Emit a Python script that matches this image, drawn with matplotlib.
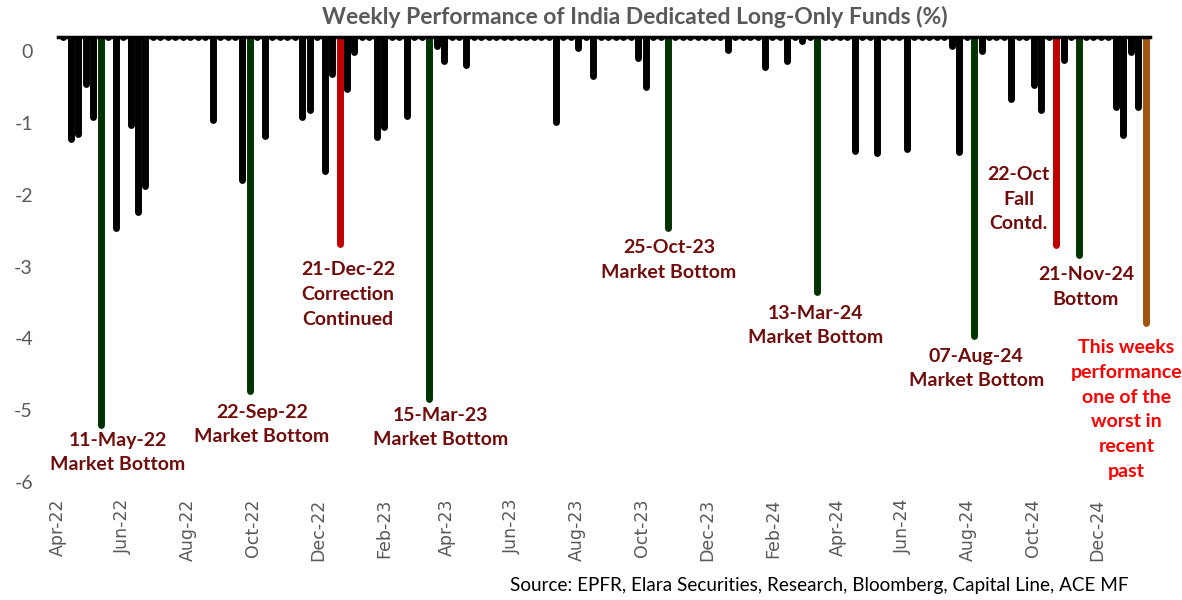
import numpy as np
import pandas as pd
import matplotlib
matplotlib.use("Agg")
import matplotlib.pyplot as plt
import matplotlib.dates as mdates

plt.rcParams["axes.unicode_minus"] = False

# weekly flows, Wednesdays
weeks = pd.date_range("2022-04-06", periods=146, freq="7D")

# weekly performance (%); positive weeks sit above the chart top and are clipped
perf = [
    0.6, -1.22, -1.15, -0.46, -0.91, -5.21, 0.8, -2.46, 0.5, -1.03,
    -2.24, -1.88, 0.7, 1.1, 0.4, 0.9, 0.6, 1.2, 0.5, 0.8,
    -0.95, 0.6, 0.9, 0.4, -1.79, -4.73, 0.7, -1.18, 0.5, 0.8,
    1.0, 0.6, -0.91, -0.82, 0.5, -1.67, -0.31, -2.69, -0.53, -0.01,
    0.7, 0.4, -1.20, -1.06, 0.6, 0.25, -0.90, 0.8, 0.5, -4.85,
    0.08, -0.14, 0.9, 0.6, -0.19, 0.7, 1.1, 0.5, 0.8, 0.6,
    0.9, 0.4, 0.7, 1.0, 0.5, 0.6, -0.99, 0.8, 0.5, 0.05,
    0.6, -0.34, 0.7, 0.9, 0.5, 0.8, 0.6, -0.09, -0.50, 0.7,
    0.5, -2.46, 1.2, 0.9, 0.6, 0.8, 0.5, 0.7, 0.25, 0.02,
    0.6, 0.8, 0.5, 0.7, -0.22, 0.6, 0.9, -0.14, 0.5, 0.14,
    0.7, -3.35, 1.1, 0.8, 0.6, 0.5, -1.39, 0.9, 0.6, -1.42,
    0.7, 0.5, 0.8, -1.36, 0.6, 0.9, 0.5, 0.7, 0.6, 0.08,
    -1.40, 0.8, -3.97, 0.01, 0.6, 0.9, 0.5, -0.66, 0.7, 0.6,
    -0.47, -0.82, 0.5, -2.70, -0.12, 0.6, -2.84, 0.8, 0.5, 0.7,
    0.6, -0.78, -1.17, -0.01, -0.78, -3.79,
]

bottom_weeks = ["2022-05-11", "2022-09-28", "2023-03-15", "2023-10-25",
                "2024-03-13", "2024-08-07", "2024-11-13"]
fall_weeks = ["2022-12-21", "2024-10-23"]
latest_week = "2025-01-15"

notes = [
    ("11-May-22\nMarket Bottom", "2022-05-27", -5.59),
    ("22-Sep-22\nMarket Bottom", "2022-10-09", -5.20),
    ("21-Dec-22\nCorrection\nContinued", "2022-12-29", -3.39),
    ("15-Mar-23\nMarket Bottom", "2023-03-26", -5.24),
    ("25-Oct-23\nMarket Bottom", "2023-10-26", -2.91),
    ("13-Mar-24\nMarket Bottom", "2024-03-11", -3.82),
    ("07-Aug-24\nMarket Bottom", "2024-08-09", -4.42),
    ("22-Oct\nFall\nContd.", "2024-09-18", -2.06),
    ("21-Nov-24\nBottom", "2024-11-20", -3.28),
]
latest_note = ("This weeks\nperformance\none of the\nworst in\nrecent\npast", "2024-12-28", -4.99)

colors = []
for w in weeks:
    d = w.strftime("%Y-%m-%d")
    if d in bottom_weeks:
        colors.append("#013300")
    elif d in fall_weeks:
        colors.append("#C00000")
    elif d == latest_week:
        colors.append("#A0560F")
    else:
        colors.append("black")

top = 0.2
fig = plt.figure(figsize=(11.82, 6), dpi=100)
ax = fig.add_axes([58 / 1182, 1 - 482 / 600, (1150 - 58) / 1182, (482 - 37) / 600])

bars = ax.vlines(weeks, top, perf, colors=colors, linewidth=5)
bars.set_capstyle("round")

ax.set_ylim(-6, top)
ax.set_xlim(pd.Timestamp("2022-04-01"), pd.Timestamp("2025-01-19"))
ax.set_yticks(range(-6, 1))

for s in ["left", "right", "bottom"]:
    ax.spines[s].set_visible(False)
ax.spines["top"].set_linewidth(2.5)
ax.spines["top"].set_color("black")
ax.spines["top"].set_zorder(5)

ax.xaxis.set_major_locator(mdates.MonthLocator(bymonth=[2, 4, 6, 8, 10, 12]))
ax.xaxis.set_major_formatter(mdates.DateFormatter("%b-%y"))
ax.tick_params(axis="x", length=0, pad=12, labelrotation=90, labelsize=12.5,
               labelcolor="#595959")
ax.tick_params(axis="y", length=0, pad=18, labelsize=14, labelcolor="#595959")
for lab in ax.get_yticklabels():
    lab.set_fontfamily("Lato")

for text, x, y in notes:
    ax.text(pd.Timestamp(x), y, text, ha="center", va="center", fontsize=14,
            fontweight="bold", family="Lato", color="#700C0C", linespacing=1.55)
ax.text(pd.Timestamp(latest_note[1]), latest_note[2], latest_note[0], ha="center",
        va="center", fontsize=14, fontweight="bold", family="Lato", color="#FF0000",
        linespacing=1.55)

fig.text(635 / 1182, 1 - 17 / 600, "Weekly Performance of India Dedicated Long-Only Funds (%)",
         ha="center", va="center", fontsize=16.5, fontweight="bold", family="Lato",
         color="#595959")
fig.text(1128 / 1182, 1 - 586 / 600,
         "Source: EPFR, Elara Securities, Research, Bloomberg, Capital Line, ACE MF",
         ha="right", va="center", fontsize=13.6, family="Lato", color="black")

fig.savefig("out.png", dpi=100)
